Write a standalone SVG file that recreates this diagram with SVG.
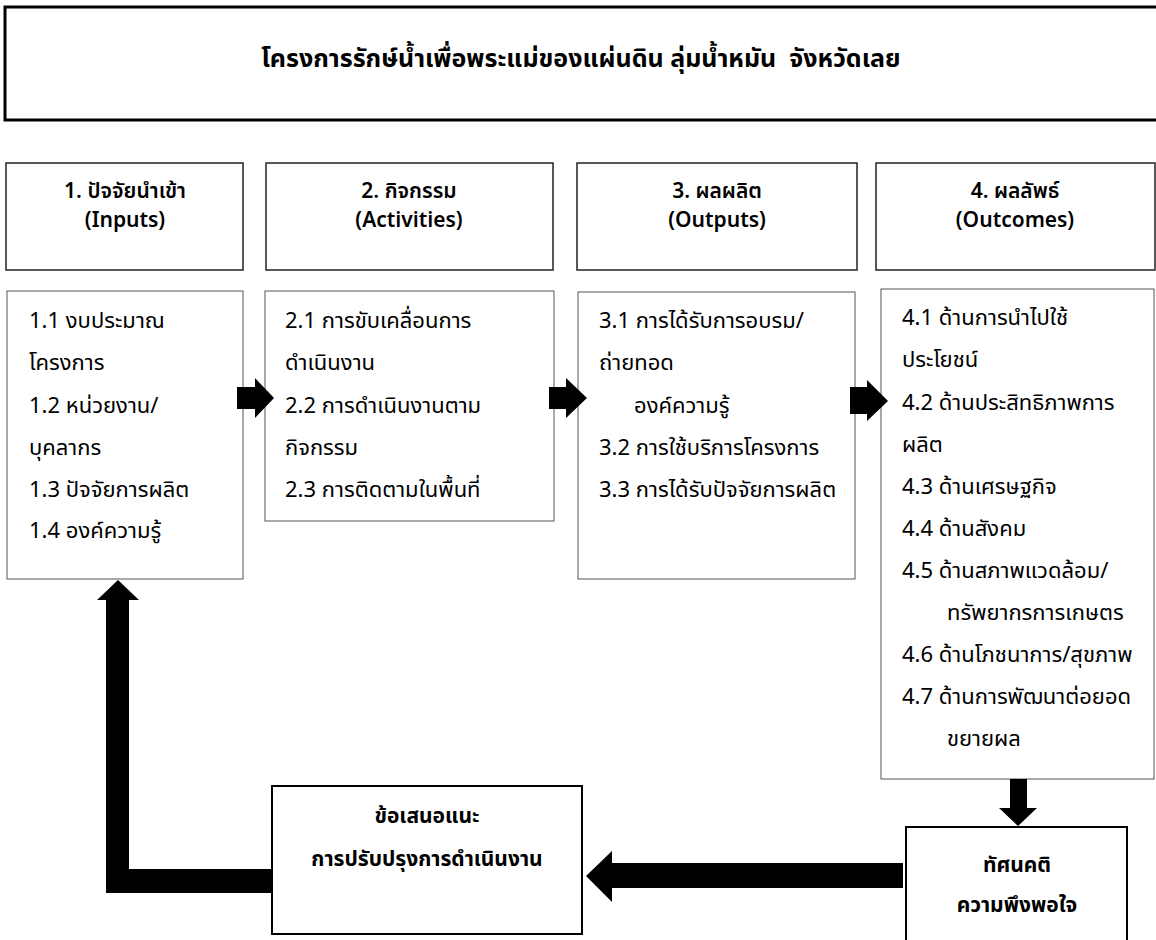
<svg xmlns="http://www.w3.org/2000/svg" width="1156" height="940" viewBox="0 0 1156 940">
<style>
text{font-family:"Noto Sans Thai","Noto Sans","DejaVu Sans",sans-serif;fill:#000}
.t{font-size:25px;font-weight:bold;text-anchor:middle}
.h{font-size:21px;font-weight:600;text-anchor:middle}
.d{font-size:22px}
.b{font-size:21px;font-weight:bold;text-anchor:middle}
.hb{fill:#fff;stroke:#222;stroke-width:1.5}
.db{fill:#fff;stroke:#555;stroke-width:1}
.bb{fill:#fff;stroke:#000;stroke-width:2}
.ar{fill:#000}
</style>
<rect width="1156" height="940" fill="#fff"/>
<g id="title">
<rect x="5" y="7" width="1160" height="113" fill="#fff" stroke="#000" stroke-width="3"/>
<text class="t" x="581" y="67" xml:space="preserve">โครงการรักษ์น้ำเพื่อพระแม่ของแผ่นดิน ลุ่มน้ำหมัน  จังหวัดเลย</text>
</g>
<g id="h1"><rect class="hb" x="6" y="163" width="237" height="107"/>
<text class="h" x="125" y="198">1. ปัจจัยนำเข้า</text><text class="h" x="125" y="227">(Inputs)</text></g>
<g id="h2"><rect class="hb" x="266" y="163" width="287" height="107"/>
<text class="h" x="409" y="198">2. กิจกรรม</text><text class="h" x="409" y="227">(Activities)</text></g>
<g id="h3"><rect class="hb" x="577" y="163" width="280" height="107"/>
<text class="h" x="717" y="198">3. ผลผลิต</text><text class="h" x="717" y="227">(Outputs)</text></g>
<g id="h4"><rect class="hb" x="876" y="163" width="279" height="107"/>
<text class="h" x="1015" y="198">4. ผลลัพธ์</text><text class="h" x="1015" y="227">(Outcomes)</text></g>
<g id="d1"><rect class="db" x="7" y="291" width="236" height="288"/>
<text class="d" x="29" y="328">1.1 งบประมาณ</text>
<text class="d" x="29" y="370">โครงการ</text>
<text class="d" x="29" y="413">1.2 หน่วยงาน/</text>
<text class="d" x="29" y="455">บุคลากร</text>
<text class="d" x="29" y="497">1.3 ปัจจัยการผลิต</text>
<text class="d" x="29" y="538">1.4 องค์ความรู้</text></g>
<g id="d2"><rect class="db" x="265" y="291" width="289" height="230"/>
<text class="d" x="285" y="328">2.1 การขับเคลื่อนการ</text>
<text class="d" x="285" y="370">ดำเนินงาน</text>
<text class="d" x="285" y="413">2.2 การดำเนินงานตาม</text>
<text class="d" x="285" y="455">กิจกรรม</text>
<text class="d" x="285" y="497">2.3 การติดตามในพื้นที่</text></g>
<g id="d3"><rect class="db" x="578" y="292" width="277" height="287"/>
<text class="d" x="599" y="328">3.1 การได้รับการอบรม/</text>
<text class="d" x="599" y="370">ถ่ายทอด</text>
<text class="d" x="634" y="413">องค์ความรู้</text>
<text class="d" x="599" y="455">3.2 การใช้บริการโครงการ</text>
<text class="d" x="599" y="497">3.3 การได้รับปัจจัยการผลิต</text></g>
<g id="d4"><rect class="db" x="881" y="289" width="273" height="490"/>
<text class="d" x="902" y="325">4.1 ด้านการนำไปใช้</text>
<text class="d" x="902" y="367">ประโยชน์</text>
<text class="d" x="902" y="410">4.2 ด้านประสิทธิภาพการ</text>
<text class="d" x="902" y="452">ผลิต</text>
<text class="d" x="902" y="494">4.3 ด้านเศรษฐกิจ</text>
<text class="d" x="902" y="536">4.4 ด้านสังคม</text>
<text class="d" x="902" y="578">4.5 ด้านสภาพแวดล้อม/</text>
<text class="d" x="947" y="620">ทรัพยากรการเกษตร</text>
<text class="d" x="902" y="662">4.6 ด้านโภชนาการ/สุขภาพ</text>
<text class="d" x="902" y="704">4.7 ด้านการพัฒนาต่อยอด</text>
<text class="d" x="947" y="746">ขยายผล</text></g>
<g id="connectors">
<polygon class="ar" points="237,387 255,387 255,378 274,398 255,418 255,409 237,409"/>
<polygon class="ar" points="549,387 566,387 566,378 587,398 566,418 566,409 549,409"/>
<polygon class="ar" points="850,387 867,387 867,380 888,401 867,421 867,414 850,414"/>
<polygon class="ar" points="1010,779 1027,779 1027,808 1037,808 1018,826 999,808 1010,808"/>
<polygon class="ar" points="903,863 903,888 612,888 612,902 586,876 612,851 612,863"/>
<polygon class="ar" points="272,869 272,893 106,893 106,600 97,600 118,580 139,600 129,600 129,869"/>
</g>
<g id="sug"><rect class="bb" x="272" y="786" width="310" height="148"/>
<text class="b" x="427" y="823">ข้อเสนอแนะ</text>
<text class="b" x="427" y="866">การปรับปรุงการดำเนินงาน</text></g>
<g id="att"><rect class="bb" x="906" y="827" width="221" height="130"/>
<text class="b" x="1017" y="872">ทัศนคติ</text>
<text class="b" x="1017" y="912">ความพึงพอใจ</text></g>
</svg>
